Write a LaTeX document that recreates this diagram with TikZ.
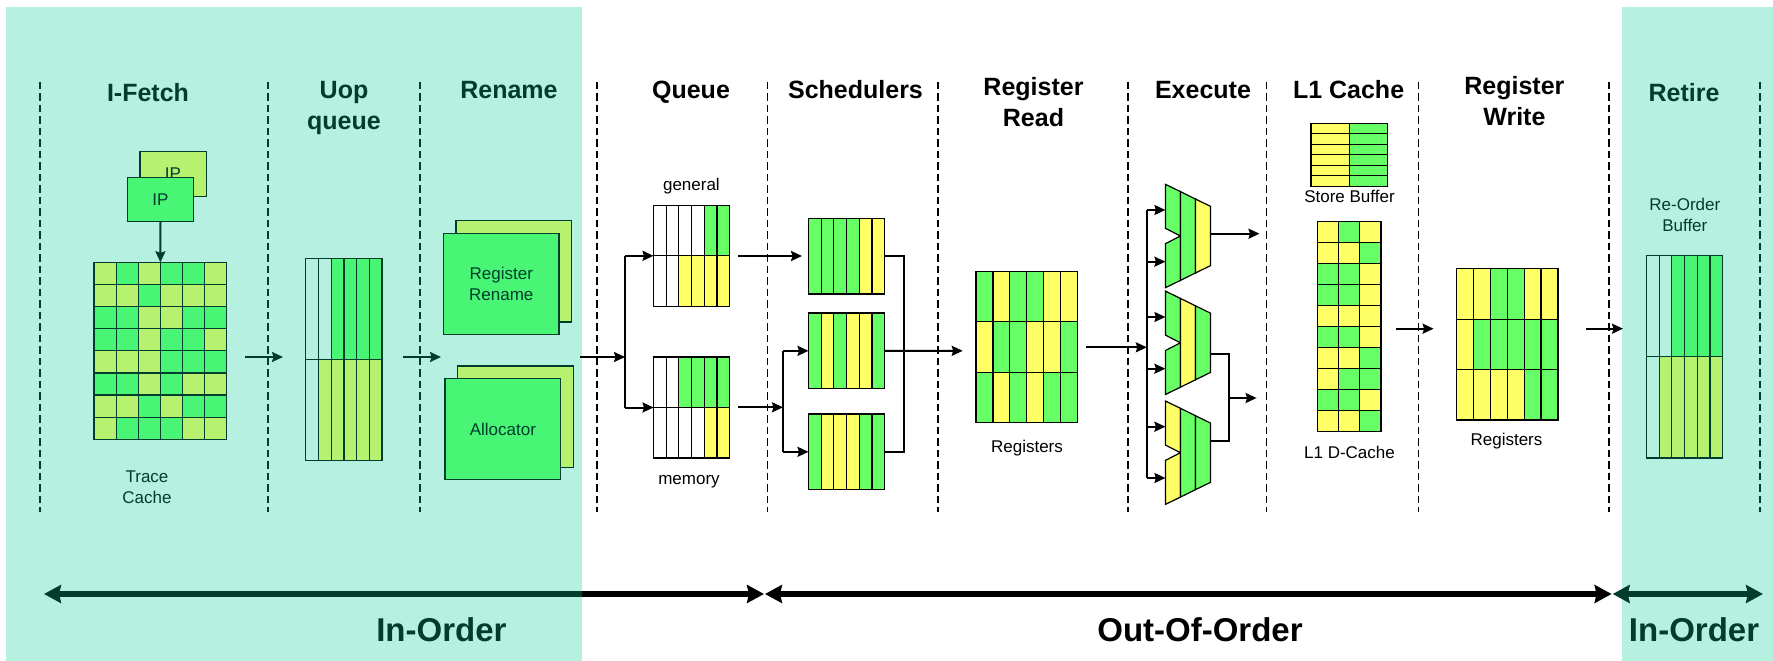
\documentclass[tikz,border=0pt]{standalone}
\usepackage{fontspec}
\setmainfont{Liberation Sans}
\usetikzlibrary{arrows.meta}
\definecolor{cPanel}{HTML}{B5F0E0}
\definecolor{cDark}{HTML}{003D2D}
\definecolor{cG}{HTML}{66FF66}
\definecolor{cY}{HTML}{FFFF66}
\definecolor{cW}{HTML}{FFFFFF}
\definecolor{cPG}{HTML}{48F575}
\definecolor{cPL}{HTML}{B7F170}
\definecolor{cT}{HTML}{B5F0E0}
\tikzset{
  x=1pt,y=-1pt,
  head/.style={inner sep=0pt,anchor=base,font=\fontsize{25}{30.5}\selectfont\bfseries,align=center},
  lab/.style={inner sep=0pt,anchor=base,font=\fontsize{17}{20.5}\selectfont,align=center},
  big/.style={inner sep=0pt,anchor=base,font=\fontsize{33}{36}\selectfont\bfseries},
  sep/.style={line width=1.5pt,dash pattern=on 7.5pt off 4pt},
  blockbox/.style={inner sep=0pt,outer sep=0pt},
  conn/.style={line width=2pt},
  arr/.style={line width=2pt,-{Stealth[length=11pt,width=10pt,inset=1.5pt]}},
  span/.style={line width=6pt,{Stealth[length=17pt,width=18pt,inset=2pt]}-{Stealth[length=17pt,width=18pt,inset=2pt]}},
  spanl/.style={line width=6pt,{Stealth[length=17pt,width=18pt,inset=2pt]}-},
  spanr/.style={line width=6pt,-{Stealth[length=17pt,width=18pt,inset=2pt]}},
  flatbox/.style={line width=1.3pt},
}
% name, x0, y0, x1, y1, cols, rows, line colour, cell colours
\newcommand\cellgrid[9]{%
  \pgfmathsetmacro\gw{(#4-#2)/#6}%
  \pgfmathsetmacro\gh{(#5-#3)/#7}%
  \foreach \cc [count=\ii from 0] in {#9}{%
    \pgfmathtruncatemacro\gc{mod(\ii,#6)}%
    \pgfmathtruncatemacro\gr{int(\ii/#6)}%
    \fill[\cc] ({#2+\gc*\gw},{#3+\gr*\gh}) rectangle ++(\gw,\gh);
  }%
  \foreach \ci in {1,...,#6}{\draw[#8,line width=1.2pt] ({#2+\ci*\gw},#3) -- ({#2+\ci*\gw},#5);}%
  \foreach \ri in {1,...,#7}{\draw[#8,line width=1.2pt] (#2,{#3+\ri*\gh}) -- (#4,{#3+\ri*\gh});}%
  \draw[#8,line width=1.2pt] (#2,#3) rectangle (#4,#5);
  \pgfmathsetmacro\bw{#4-#2}%
  \pgfmathsetmacro\bh{#5-#3}%
  \node[blockbox,minimum width=\bw pt,minimum height=\bh pt] (#1) at ({(#2+#4)/2},{(#3+#5)/2}) {};
}
% centre y, three colours
\newcommand\alushape[4]{%
  \draw[line width=1.2pt,fill=#2] (1165.4,#1-51.7) -- (1180.4,#1-44.4) -- (1180.4,#1+44.4) -- (1165.4,#1+51.7) -- (1165.4,#1+7.7) -- (1180.4,#1) -- (1165.4,#1-7.7) -- cycle;
  \draw[line width=1.2pt,fill=#3] (1180.4,#1-44.4) -- (1195.4,#1-37) -- (1195.4,#1+37) -- (1180.4,#1+44.4) -- cycle;
  \draw[line width=1.2pt,fill=#4] (1195.4,#1-37) -- (1210.4,#1-29.7) -- (1210.4,#1+29.7) -- (1195.4,#1+37) -- cycle;
}
\begin{document}
\begin{tikzpicture}
\useasboundingbox (0,0) rectangle (1773,661);
\fill[white] (0,0) rectangle (1773,661);
\fill[cPanel] (6,7) rectangle (582,661);
\fill[cPanel] (1622,7) rectangle (1773,661);

% separators
\foreach \sx in {40,268,420,1760}{\draw[sep,cDark] (\sx,81.7) -- (\sx,511.7);}
\foreach \sx in {597,767.5,938,1127.8,1266.6,1418.6,1609}{\draw[sep,black] (\sx,81.7) -- (\sx,511.7);}

% headings
\begin{scope}[text=cDark]
\node[head] (hfetch) at (148,101.5) {I-Fetch};
\node[head] (huop) at (344,129) {Uop\\queue};
\node[head] (hren) at (509,99) {Rename};
\node[head] (hret) at (1684,101.5) {Retire};
\end{scope}
\node[head] (hque) at (691,98.7) {Queue};
\node[head] (hsch) at (855.5,99) {Schedulers};
\node[head] (hrr) at (1033.5,126) {Register\\Read};
\node[head] (hexe) at (1203,98.7) {Execute};
\node[head] (hl1) at (1348.6,98.7) {L1 Cache};
\node[head] (hrw) at (1514.4,125) {Register\\Write};

% IP
\draw[flatbox,cDark,fill=cPL] (140,151.7) rectangle (206.7,196.3);
\node[lab,text=cDark] (ipb) at (173,179) {IP};
\node[blockbox,draw=cDark,line width=1.3pt,fill=cPG,minimum width=66.2pt,minimum height=44.4pt,font=\fontsize{17}{20}\selectfont,text=cDark] (ip) at (160.5,199.5) {IP};

% trace cache
\cellgrid{tc}{94}{262.3}{226.8}{439.3}{6}{8}{cDark}{cPL,cPG,cPL,cPG,cPG,cPL,cPL,cPL,cPG,cPL,cPL,cPL,cPG,cPG,cPL,cPL,cPG,cPG,cPG,cPG,cPL,cPG,cPG,cPL,cPL,cPL,cPL,cPG,cPG,cPG,cPG,cPG,cPL,cPG,cPL,cPL,cPL,cPL,cPG,cPL,cPG,cPG,cPL,cPG,cPG,cPG,cPL,cPL}
\draw[arr,cDark] (ip.south) -- (tc.north);
\node[lab,text=cDark] (tcl) at (147,503) {Trace\\Cache};

% uop queue
\cellgrid{uq}{305.8}{258.7}{382}{460.7}{6}{2}{cDark}{cT,cT,cPG,cPG,cPG,cPG,cT,cPL,cPL,cPL,cPL,cPL}
\coordinate (a1s) at (245,357); \coordinate (a1e) at (283,357);
\draw[arr,cDark] (a1s) -- (a1e);
\coordinate (a2s) at (403,357); \coordinate (a2e) at (441,357);
\draw[arr,cDark] (a2s) -- (a2e);

% rename
\draw[flatbox,cDark,fill=cPL] (456,220.7) rectangle (571.7,322);
\node[blockbox,draw=cDark,line width=1.3pt,fill=cPG,minimum width=115.5pt,minimum height=101pt,font=\fontsize{17}{21.5}\selectfont,text=cDark,align=center] (rr) at (501.3,283.8) {Register\\Rename};
\draw[flatbox,cDark,fill=cPL] (457.7,366) rectangle (573.3,467.3);
\node[blockbox,draw=cDark,line width=1.3pt,fill=cPG,minimum width=115.7pt,minimum height=100.6pt,font=\fontsize{17}{20}\selectfont,text=cDark] (al) at (502.9,429) {Allocator};

% queues
\node[lab] (lgen) at (691.4,190) {general};
\cellgrid{gen}{653.5}{205.3}{729.6}{306.3}{6}{2}{black}{cW,cW,cW,cW,cG,cG,cW,cW,cY,cY,cY,cY}
\cellgrid{mem}{653.5}{357}{729.6}{458}{6}{2}{black}{cW,cW,cG,cG,cG,cG,cW,cW,cW,cW,cY,cY}
\node[lab] (lmem) at (689,484) {memory};
\coordinate (j0) at (580,357); \coordinate (j1) at (625,357);
\draw[arr] (j0) -- (j1);
\draw[conn] (j1 |- gen.west) -- (j1 |- mem.west);
\draw[arr] (j1 |- gen.west) -- (gen.west);
\draw[arr] (j1 |- mem.west) -- (mem.west);

% schedulers
\cellgrid{s1}{808.5}{218.3}{884.6}{294}{6}{1}{black}{cG,cG,cG,cG,cY,cY}
\cellgrid{s2}{808.5}{313}{884.6}{388.7}{6}{1}{black}{cG,cY,cG,cY,cY,cG}
\cellgrid{s3}{808.5}{414}{884.6}{489.7}{6}{1}{black}{cG,cY,cY,cY,cG,cG}
\coordinate (q1s) at (738.4,256); \coordinate (q1e) at (802,256);
\draw[arr] (q1s) -- (q1e);
\coordinate (q2s) at (738.4,407.3); \coordinate (j2) at (783,407.3);
\draw[arr] (q2s) -- (j2);
\draw[conn] (j2 |- s2.west) -- (j2 |- s3.west);
\draw[arr] (j2 |- s2.west) -- (s2.west);
\draw[arr] (j2 |- s3.west) -- (s3.west);
\coordinate (j3) at (903.8,300);
\draw[conn,line join=miter] (s1.east) -| (j3 |- s3.east) -- (s3.east);
\coordinate (q3e) at (962.7,350.85);
\draw[arr] (s2.east) -- (q3e);

% register read
\cellgrid{rg}{976}{271.3}{1077.5}{422.7}{6}{3}{black}{cG,cY,cG,cG,cY,cY,cY,cG,cG,cY,cY,cG,cG,cY,cG,cY,cG,cG}
\node[lab] (lrg) at (1027,452) {Registers};

% execute
\alushape{236}{cG}{cG}{cY}
\alushape{342.8}{cG}{cY}{cG}
\alushape{452.7}{cY}{cG}{cG}
\coordinate (e0) at (1086,347.3); \coordinate (e1) at (1146.8,347.3);
\draw[arr] (e0) -- (e1);
\coordinate (eT) at (1146.8,210); \coordinate (eB) at (1146.8,478);
\draw[conn] (eT) -- (eB);
\foreach \ey in {210,261.7,317,368.7,426.7,478}{\draw[arr] (1146.8,\ey) -- (1165.4,\ey);}
\coordinate (o1s) at (1210.4,233.7); \coordinate (o1e) at (1259.5,233.7);
\draw[arr] (o1s) -- (o1e);
\coordinate (o2s) at (1210.4,353.7); \coordinate (o3s) at (1210.4,441.3); \coordinate (o4) at (1229,398); \coordinate (o4e) at (1256.6,398);
\draw[conn] (o2s) -| (o4 |- o3s) -- (o3s);
\draw[arr] (o4) -- (o4e);

% L1
\cellgrid{sb}{1311}{123.3}{1387.4}{186.3}{2}{6}{black}{cY,cG,cY,cG,cY,cG,cY,cG,cY,cG,cY,cG}
\node[lab] (lsb) at (1349.5,202.7) {Store Buffer};
\cellgrid{l1}{1317.4}{221.3}{1381}{431.7}{3}{10}{black}{cY,cG,cY,cY,cY,cG,cG,cG,cY,cG,cG,cY,cY,cY,cY,cG,cG,cY,cY,cY,cG,cY,cG,cG,cG,cG,cY,cY,cY,cG}
\node[lab] (ll1) at (1349.5,458) {L1 D-Cache};
\coordinate (w0) at (1396,328.7); \coordinate (w1) at (1433.6,328.7);
\draw[arr] (w0) -- (w1);

% register write
\cellgrid{rw}{1456.5}{268.7}{1558}{420}{6}{3}{black}{cY,cY,cG,cG,cY,cY,cY,cG,cG,cG,cG,cG,cY,cY,cY,cY,cG,cG}
\node[lab] (lrw) at (1506.5,445) {Registers};
\coordinate (r0) at (1585.6,328.7); \coordinate (r1) at (1623,328.7);
\draw[arr] (r0) -- (r1);

% retire
\node[lab,text=cDark] (lrob) at (1684.8,231) {Re-Order\\Buffer};
\cellgrid{rob}{1646.4}{255.7}{1722.7}{458}{6}{2}{cDark}{cT,cT,cPG,cPG,cPG,cPG,cT,cPL,cPL,cPL,cPL,cPL}

% spans
\coordinate (b1) at (44,594); \coordinate (b1m) at (582,594); \coordinate (b2) at (764,594);
\coordinate (b3) at (765,594); \coordinate (b4) at (1611.6,594);
\coordinate (b5) at (1612.7,594); \coordinate (b6) at (1763,594);
\draw[spanr,black] (b1m) -- (b2);
\draw[spanl,cDark] (b1) -- (b1m);
\draw[span,black] (b3) -- (b4);
\draw[span,cDark] (b5) -- (b6);
\node[big,text=cDark] (io1) at (441.4,641) {In-Order};
\node[big] (oo) at (1200,641) {Out-Of-Order};
\node[big,text=cDark] (io2) at (1694,641) {In-Order};
\end{tikzpicture}
\end{document}
